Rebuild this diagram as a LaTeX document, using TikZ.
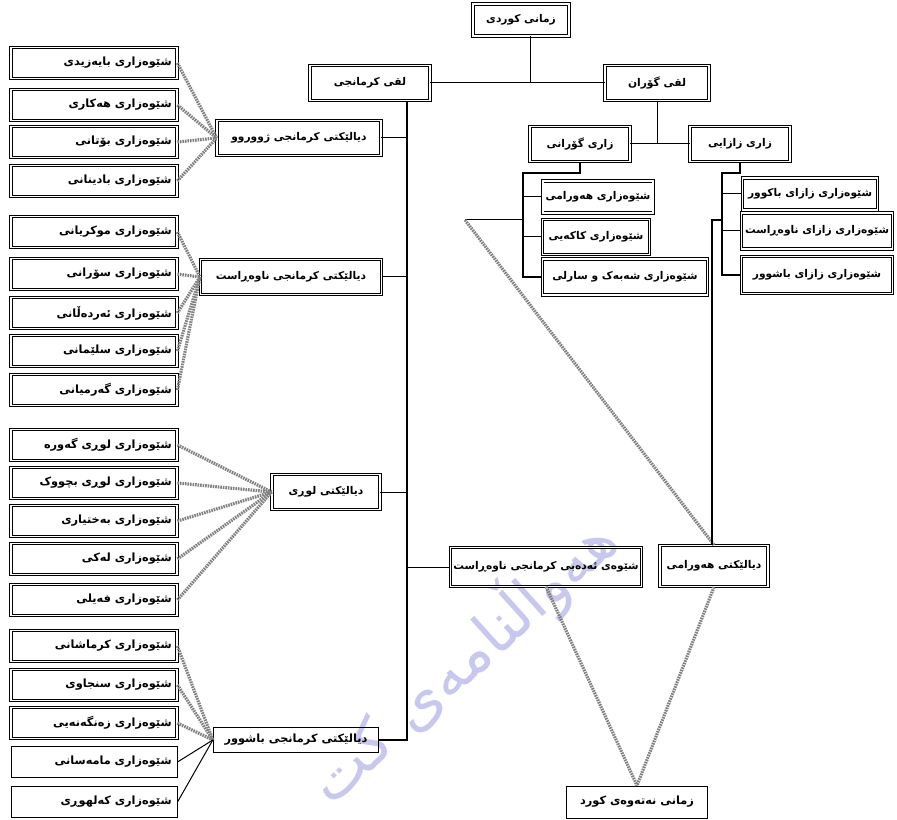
\documentclass[tikz,border=0pt]{standalone}
\usepackage{fontspec}
\newfontfamily\kufont[Script=Arabic]{DejaVu Sans}
\TeXXeTstate=1
\definecolor{lavender}{RGB}{200,200,238}

\tikzset{every picture/.style={line width=0.75pt}}
\tikzset{
  box/.style={draw, double, double distance=1.2pt, line width=0.6pt, inner sep=2pt,
    font=\kufont\bfseries\fontsize{8}{9}\selectfont},
  plainbox/.style={draw, line width=0.75pt, inner sep=2pt,
    font=\kufont\bfseries\fontsize{8.5}{9.5}\selectfont},
  subbox/.style={box, minimum height=23pt, text width=116.5pt, inner sep=4pt, align=right,
    font=\kufont\bfseries\fontsize{8.5}{9.5}\selectfont},
  plainsub/.style={plainbox, minimum height=23pt, text width=116.5pt, inner sep=4pt, align=right},
  fuzzy/.style={draw=black!50, line width=2.4pt, dash pattern=on 1.2pt off 0.7pt},
  trunk/.style={line width=1pt},
  wmark/.style={text=lavender, font=\kufont\fontsize{46}{46}\selectfont}
}

\begin{document}
\begin{tikzpicture}[x=0.75pt,y=0.75pt,yscale=-1,xscale=1]
\useasboundingbox (0,0) rectangle (897,820);

% watermark
\node[wmark, rotate=42] (wm) at (462,660) {\beginR هەواڵنامەی کت\endR};

% top levels
\node[box, minimum width=72pt, minimum height=24pt] (top) at (521,20) {\beginR زمانی کوردی\endR};
\node[box, minimum width=90pt, minimum height=26pt] (kurmanji) at (370,83) {\beginR لقی کرمانجی\endR};
\node[box, minimum width=78pt, minimum height=26pt] (goran) at (657,83) {\beginR لقی گۆران\endR};

% right side
\node[box, minimum width=75pt, minimum height=26pt] (gorani) at (580,144) {\beginR زاری گۆرانی\endR};
\node[box, minimum width=75pt, minimum height=26pt] (zaza) at (740,144) {\beginR زاری زازایی\endR};
\node[box, minimum width=82pt, minimum height=24pt] (a1) at (598,197) {\beginR شێوەزاری هەورامی\endR};
\node[box, minimum width=80pt, minimum height=26pt] (a2) at (596,237) {\beginR شێوەزاری کاکەیی\endR};
\node[box, minimum width=124pt, minimum height=27pt] (a3) at (625,277) {\beginR شێوەزاری شەبەک و سارلی\endR};
\node[box, minimum width=101pt, minimum height=24pt] (b1) at (810,194) {\beginR شێوەزاری زازای باکوور\endR};
\node[box, minimum width=113pt, minimum height=27pt] (b2) at (817,231) {\beginR شێوەزاری زازای ناوەڕاست\endR};
\node[box, minimum width=113pt, minimum height=28pt] (b3) at (817,275) {\beginR شێوەزاری زازای باشوور\endR};

% left dialect groups
\node[box, minimum width=123pt, minimum height=26pt] (north) at (299,138) {\beginR دیالێکتی کرمانجی ژووروو\endR};
\node[box, minimum width=136pt, minimum height=26pt] (central) at (291,277) {\beginR دیالێکتی کرمانجی ناوەڕاست\endR};
\node[box, minimum width=81pt, minimum height=26pt] (luri) at (326,492) {\beginR دیالێکتی لوڕی\endR};
\node[box, minimum width=133pt, minimum height=29pt] (adabi) at (546,567) {\beginR شێوەی ئەدەبی کرمانجی ناوەڕاست\endR};
\node[box, minimum width=81pt, minimum height=31pt] (hawrami) at (714,566) {\beginR دیالێکتی هەورامی\endR};
\node[plainbox, minimum width=124pt, minimum height=19pt] (south) at (296,740) {\beginR دیالێکتی کرمانجی باشوور\endR};
\node[plainbox, minimum width=106pt, minimum height=24pt] (nation) at (637,802) {\beginR زمانی نەتەوەی کورد\endR};

% sub dialects
\node[subbox] (n1) at (94,63) {\beginR شێوەزاری بایەزیدی\endR};
\node[subbox] (n2) at (94,105) {\beginR شێوەزاری هەکاری\endR};
\node[subbox] (n3) at (94,142) {\beginR شێوەزاری بۆتانی\endR};
\node[subbox] (n4) at (94,181) {\beginR شێوەزاری بادینانی\endR};

\node[subbox] (c1) at (94,232) {\beginR شێوەزاری موکریانی\endR};
\node[subbox] (c2) at (94,274) {\beginR شێوەزاری سۆرانی\endR};
\node[subbox] (c3) at (94,313) {\beginR شێوەزاری ئەردەڵانی\endR};
\node[subbox] (c4) at (94,351) {\beginR شێوەزاری سلێمانی\endR};
\node[subbox] (c5) at (94,390) {\beginR شێوەزاری گەرمیانی\endR};

\node[subbox] (l1) at (94,445) {\beginR شێوەزاری لوڕی گەورە\endR};
\node[subbox] (l2) at (94,483) {\beginR شێوەزاری لوڕی بچووک\endR};
\node[subbox] (l3) at (94,521) {\beginR شێوەزاری بەختیاری\endR};
\node[subbox] (l4) at (94,559) {\beginR شێوەزاری لەکی\endR};
\node[subbox] (l5) at (94,600) {\beginR شێوەزاری فەیلی\endR};

\node[subbox] (s1) at (94,646) {\beginR شێوەزاری کرماشانی\endR};
\node[subbox] (s2) at (94,685) {\beginR شێوەزاری سنجاوی\endR};
\node[subbox] (s3) at (94,723) {\beginR شێوەزاری زەنگەنەیی\endR};
\node[plainsub] (s4) at (94,762) {\beginR شێوەزاری مامەسانی\endR};
\node[plainsub] (s5) at (94,802) {\beginR شێوەزاری کەلهوڕی\endR};

% junction points
\coordinate (jn) at (530,83);
\coordinate (tk) at (407,0);
\coordinate (gl) at (523,173);
\coordinate (tri) at (465,220);
\coordinate (zr) at (722,173);
\coordinate (zv) at (712,220);

% tree lines
\draw (top.south -| jn) -- (jn);
\draw (kurmanji.east) -- (goran.west);
\draw[trunk] (kurmanji.south -| tk) |- (south.east);
\draw (north.east) -- (north.east -| tk);
\draw (central.east) -- (central.east -| tk);
\draw (luri.east) -- (luri.east -| tk);
\draw (tk |- adabi.west) -- (adabi.west);

\draw (goran.south) -- (goran.south |- gorani.east);
\draw (gorani.east) -- (zaza.west);
\draw[trunk] (gorani.south) |- (gl) |- (a3.west);
\draw (gl |- a1.west) -- (a1.west);
\draw (gl |- a2.west) -- (a2.west);
\draw (gl |- tri) -- (tri);
\draw[fuzzy] (tri) -- (hawrami.north);
\draw[trunk] (zaza.south) |- (zr) |- (b3.west);
\draw (zr |- b1.west) -- (b1.west);
\draw (zr |- b2.west) -- (b2.west);
\draw[trunk] (zr |- zv) -- (zv) -- (zv |- hawrami.north);

% fans
\foreach \i in {1,...,4} \draw[fuzzy] (n\i.east) -- (north.west);
\foreach \i in {1,...,5} \draw[fuzzy] (c\i.east) -- (central.west);
\foreach \i in {1,...,5} \draw[fuzzy] (l\i.east) -- (luri.west);
\foreach \i in {1,...,3} \draw[fuzzy] (s\i.east) -- (south.west);
\draw (s4.east) -- (south.west);
\draw (s5.east) -- (south.west);

% national language
\draw[fuzzy] (adabi.south) -- (nation.north);
\draw[fuzzy] (hawrami.south) -- (nation.north);

\end{tikzpicture}
\end{document}
